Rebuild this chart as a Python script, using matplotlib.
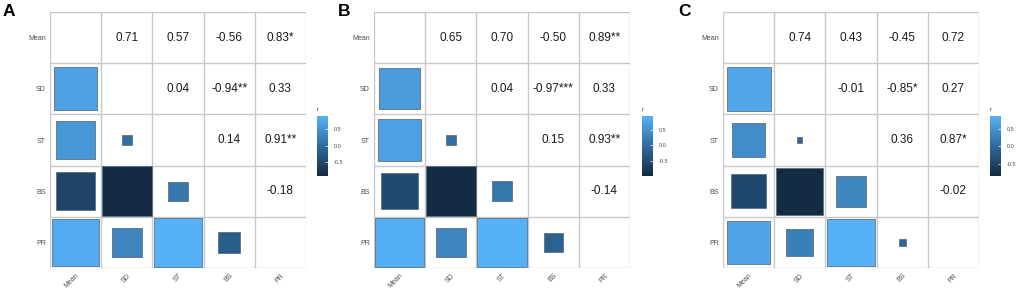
import numpy as np
import matplotlib
matplotlib.use("Agg")
import matplotlib.pyplot as plt
from matplotlib.patches import Rectangle
from matplotlib.colors import LinearSegmentedColormap, Normalize
from matplotlib.colorbar import ColorbarBase

plt.rcParams["font.family"] = ["Liberation Sans", "DejaVu Sans"]

variables = ["Mean", "SD", "ST", "BS", "PR"]

# upper-triangle correlations (row i, col j>i), read row by row
r_A = [0.71, 0.57, -0.56, 0.83, 0.04, -0.94, 0.33, 0.14, 0.91, -0.18]
stars_A = ["", "", "", "*", "", "**", "", "", "**", ""]
r_B = [0.65, 0.70, -0.50, 0.89, 0.04, -0.97, 0.33, 0.15, 0.93, -0.14]
stars_B = ["", "", "", "**", "", "***", "", "", "**", ""]
r_C = [0.74, 0.43, -0.45, 0.72, -0.01, -0.85, 0.27, 0.36, 0.87, -0.02]
stars_C = ["", "", "", "", "", "*", "", "", "*", ""]

panel_labels = ["A", "B", "C"]
cbar_ticks = [-0.5, 0.0, 0.5]

cmap = LinearSegmentedColormap.from_list("gg", ["#132B43", "#2F6A9C", "#56B1F7"])

W, H = 1021, 294
fig = plt.figure(figsize=(W / 100, H / 100), dpi=100)

ax_left = [50, 374, 723]
cb_left = [317, 642, 990]
grid_top, grid_bot = 12, 268
letter_x = [3, 338, 678]

n = len(variables)
for p, (rv, st) in enumerate([(r_A, stars_A), (r_B, stars_B), (r_C, stars_C)]):
    M = np.full((n, n), np.nan)
    S = [["" for _ in range(n)] for _ in range(n)]
    k = 0
    for i in range(n):
        for j in range(i + 1, n):
            M[i, j] = rv[k]
            M[j, i] = rv[k]
            S[i][j] = st[k]
            k += 1
    vmin, vmax = np.nanmin(M), np.nanmax(M)
    norm = Normalize(vmin, vmax)

    side = grid_bot - grid_top
    ax = fig.add_axes([ax_left[p] / W, (H - grid_bot) / H, side / W, side / H])
    ax.set_xlim(-0.5, n - 0.5)
    ax.set_ylim(n - 0.5, -0.5)
    for i in range(n):
        for j in range(n):
            if i > j:
                v = M[i, j]
                s = np.sqrt(abs(v))
                ax.add_patch(Rectangle((j - s / 2, i - s / 2), s, s,
                                       facecolor=cmap(norm(v)), edgecolor="#5f7080",
                                       linewidth=0.6, zorder=2))
            elif j > i:
                ax.text(j, i, f"{M[i, j]:.2f}{S[i][j]}", ha="center", va="center",
                        fontsize=8.5, color="#1a1a1a", zorder=3)
    for t in np.arange(-0.5, n, 1.0):
        ax.axhline(t, color="#c8c8c8", lw=1.0, zorder=1)
        ax.axvline(t, color="#c8c8c8", lw=1.0, zorder=1)
    for sp in ax.spines.values():
        sp.set_visible(False)
    ax.set_xticks(range(n))
    ax.set_yticks(range(n))
    ax.set_xticklabels(variables, rotation=45, ha="right", va="top",
                       rotation_mode="anchor", fontsize=5, color="#4d4d4d")
    ax.set_yticklabels(variables, fontsize=5, color="#4d4d4d")
    ax.tick_params(length=0, pad=3)

    cax = fig.add_axes([cb_left[p] / W, (H - 176) / H, 11 / W, 60 / H])
    cb = ColorbarBase(cax, cmap=cmap, norm=norm, orientation="vertical")
    cb.outline.set_visible(False)
    cb.set_ticks(cbar_ticks)
    cb.set_ticklabels([f"{t:.1f}" for t in cbar_ticks])
    cax.tick_params(direction="in", color="white", length=2, width=0.5,
                    labelsize=4, labelcolor="#4d4d4d", pad=4)
    cax.text(0, 1.06, "r", transform=cax.transAxes, fontsize=4.5,
             ha="left", va="bottom", color="#333333")

    fig.text(letter_x[p] / W, 1 - 4 / H, panel_labels[p], fontsize=12.5,
             fontweight="bold", ha="left", va="top")

fig.savefig("out.png", dpi=100)
